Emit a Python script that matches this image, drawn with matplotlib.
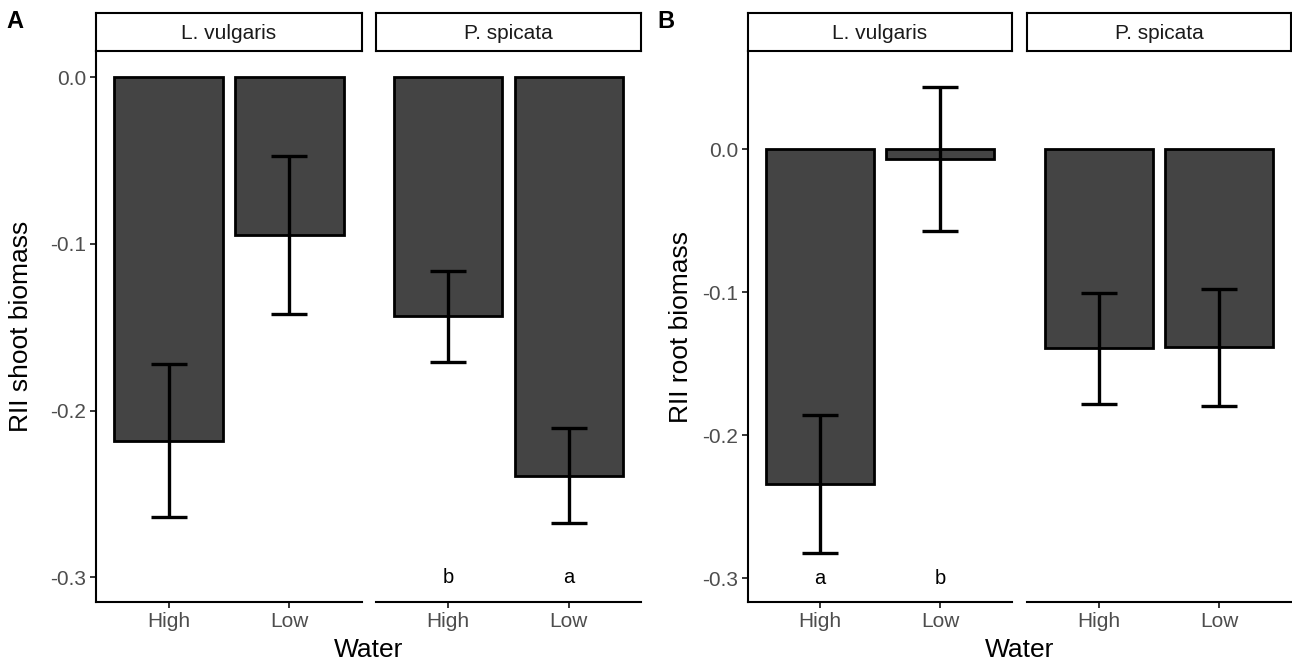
import numpy as np
import matplotlib
matplotlib.use("Agg")
from matplotlib import pyplot as plt

plt.rcParams['font.family'] = ['Liberation Sans', 'DejaVu Sans']

water = ["High", "Low"]
species = ["L. vulgaris", "P. spicata"]

# panel A - shoot biomass
shoot_lv_mean = [-0.218, -0.0945]
shoot_lv_se = [0.0457, 0.0475]
shoot_ps_mean = [-0.1435, -0.239]
shoot_ps_se = [0.0274, 0.0285]
shoot_lv_letters = ["", ""]
shoot_ps_letters = ["b", "a"]

# panel B - root biomass
root_lv_mean = [-0.234, -0.0068]
root_lv_se = [0.048, 0.0505]
root_ps_mean = [-0.139, -0.1386]
root_ps_se = [0.0388, 0.041]
root_lv_letters = ["a", "b"]
root_ps_letters = ["", ""]

letter_y = -0.3
yticks = [0.0, -0.1, -0.2, -0.3]

W, H = 1292, 667
fig = plt.figure(figsize=(W / 100, H / 100), dpi=100)

bar_col = "#444444"
tick_col = "#4d4d4d"


def px_axes(x0, x1, y0, y1):
    # pixel box (top-left origin) -> figure axes
    return fig.add_axes([x0 / W, (H - y1) / H, (x1 - x0) / W, (y1 - y0) / H])


def facet(x0, x1, ylim, name, means, ses, letters, first):
    ax = px_axes(x0, x1, 51, 602.3)
    x = np.arange(1, len(water) + 1)
    ax.bar(x, means, width=0.9, color=bar_col, edgecolor="black", linewidth=2.0, zorder=2)
    ax.errorbar(x, means, yerr=ses, fmt="none", ecolor="black", elinewidth=2.4,
                capsize=13.3, capthick=2.4, zorder=3)
    for xi, lab in zip(x, letters):
        if lab:
            ax.text(xi, letter_y, lab, ha="center", va="center", fontsize=14.5, color="black")
    ax.set_xlim(0.4, 2.6)
    ax.set_ylim(*ylim)
    ax.set_xticks(x)
    ax.set_xticklabels(water)
    ax.spines["top"].set_visible(False)
    ax.spines["right"].set_visible(False)
    ax.spines["bottom"].set_linewidth(1.5)
    ax.spines["left"].set_linewidth(1.5)
    ax.tick_params(axis="both", colors="black", labelcolor=tick_col, labelsize=15,
                   length=4.5, width=1.1, pad=2.5)
    if first:
        ax.set_yticks(yticks)
        ax.set_yticklabels(["%.1f" % v if v != 0 else "0.0" for v in yticks])
    else:
        ax.spines["left"].set_visible(False)
        ax.set_yticks([])
    # strip
    s = px_axes(x0, x1, 13, 51)
    s.set_xticks([])
    s.set_yticks([])
    for sp in s.spines.values():
        sp.set_linewidth(1.5)
    s.text(0.5, 0.47, name, ha="center", va="center", fontsize=15, color="#1a1a1a",
           transform=s.transAxes)
    return ax


ylim_a = (-0.315, 0.0158)
ylim_b = (-0.3168, 0.0687)

axA1 = facet(96, 362, ylim_a, species[0], shoot_lv_mean, shoot_lv_se, shoot_lv_letters, True)
axA2 = facet(376, 641, ylim_a, species[1], shoot_ps_mean, shoot_ps_se, shoot_ps_letters, False)
axB1 = facet(748, 1012, ylim_b, species[0], root_lv_mean, root_lv_se, root_lv_letters, True)
axB2 = facet(1027, 1291, ylim_b, species[1], root_ps_mean, root_ps_se, root_ps_letters, False)

axA1.set_ylabel("RII shoot biomass", fontsize=19, color="black")
axA1.yaxis.set_label_coords(-0.235, 0.5)
axB1.set_ylabel("RII root biomass", fontsize=19, color="black")
axB1.yaxis.set_label_coords(-0.207, 0.5)

fig.text(368.5 / W, 1 - 650 / H, "Water", ha="center", va="center", fontsize=19)
fig.text(1019.5 / W, 1 - 650 / H, "Water", ha="center", va="center", fontsize=19)

fig.text(15 / W, 1 - 22 / H, "A", ha="center", va="center", fontsize=17, fontweight="bold")
fig.text(666 / W, 1 - 22 / H, "B", ha="center", va="center", fontsize=17, fontweight="bold")

plt.savefig("out.png", dpi=100)
